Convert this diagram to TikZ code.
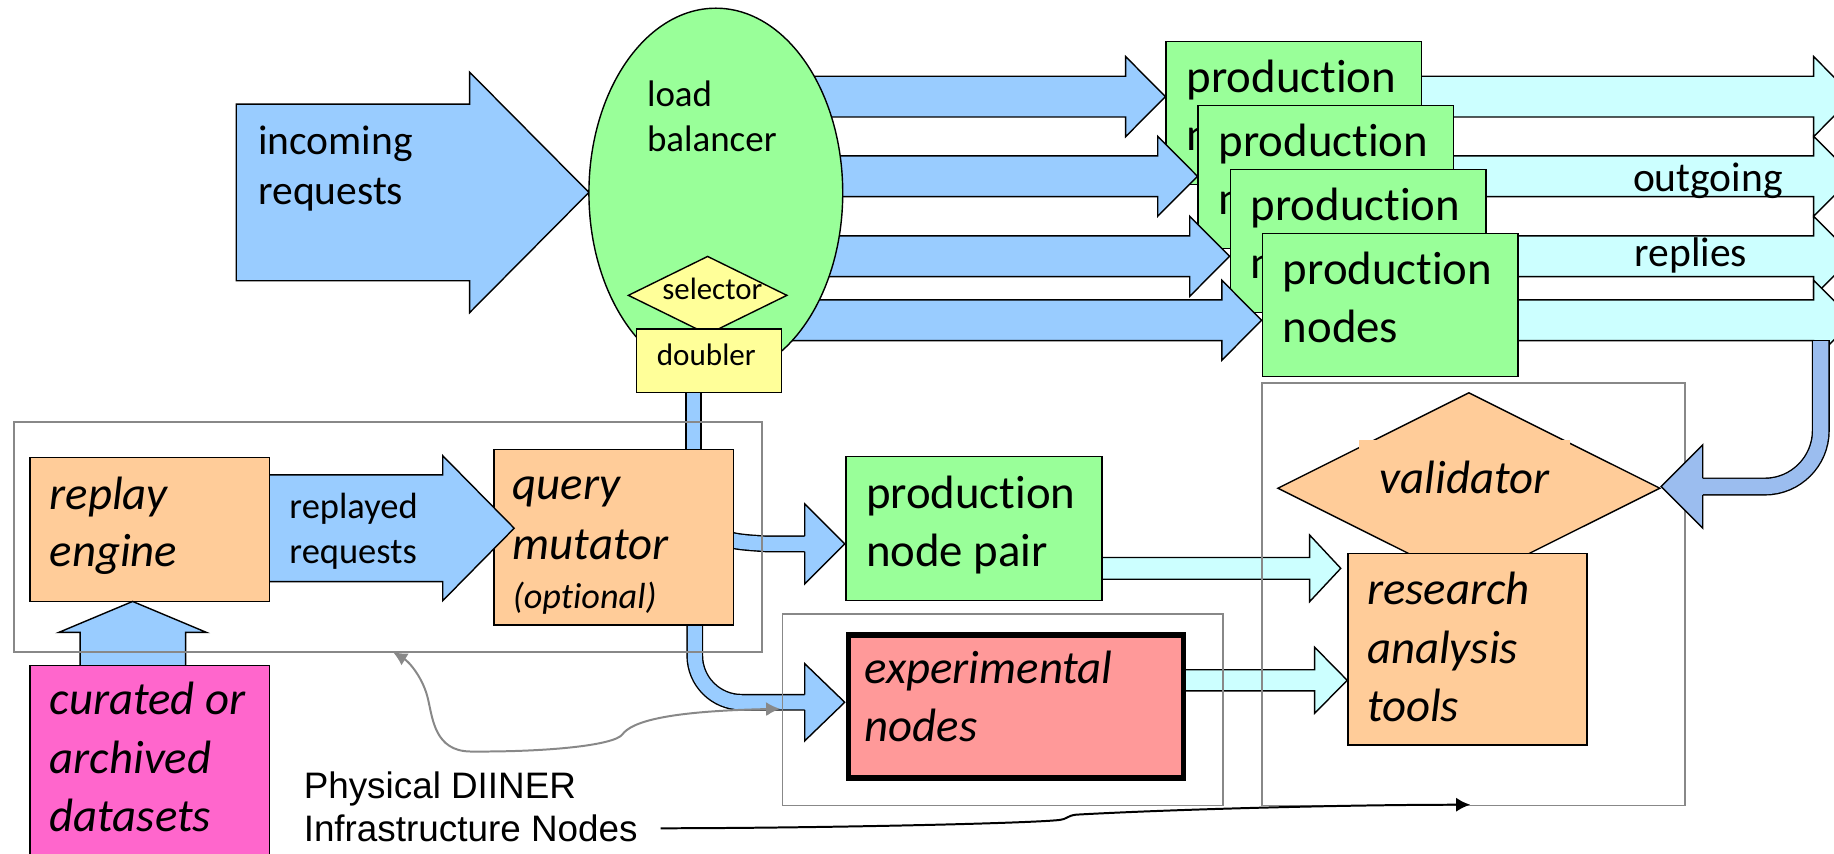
\documentclass[tikz,border=0pt]{standalone}
\usepackage{fontspec}
\setmainfont{Carlito}[Ligatures=NoCommon]
\newfontfamily\arialf{Liberation Sans}
\usetikzlibrary{shapes.geometric,arrows.meta}
\definecolor{cblue}{HTML}{99CCFF}
\definecolor{ccyan}{HTML}{CCFFFF}
\definecolor{cgreen}{HTML}{99FF99}
\definecolor{corange}{HTML}{FFCC99}
\definecolor{cyellow}{HTML}{FFFF99}
\definecolor{cpink}{HTML}{FF66CC}
\definecolor{cred}{HTML}{FF9999}
\definecolor{rblue}{HTML}{9BBDEF}
\definecolor{fgray}{HTML}{888888}
\newcommand\fsz[1]{\fontsize{#1}{#1}\selectfont}
% right/left block arrow: color, x0, xbase, xtip, yc, half body, half head
\newcommand\rarrow[7]{\draw[outl, fill=#1] (#2,{#5-#6}) -- (#3,{#5-#6}) -- (#3,{#5-#7}) -- (#4,#5) -- (#3,{#5+#7}) -- (#3,{#5+#6}) -- (#2,{#5+#6}) -- cycle;}
% arrow head on a pipe: color, xbase, xtip, yc, half body, half head
\newcommand\phead[6]{\fill[#1] (#2,{#4-#6}) -- (#3,#4) -- (#2,{#4+#6}) -- cycle;
  \draw[outl] (#2,{#4-#5}) -- (#2,{#4-#6}) -- (#3,#4) -- (#2,{#4+#6}) -- (#2,{#4+#5});}
\tikzset{
  outl/.style={draw=black, line width=1.2pt, line join=miter},
  bx/.style={outl, inner sep=0pt, anchor=north west},
  frm/.style={draw=fgray, line width=1.5pt, inner sep=0pt, anchor=north west},
  txt/.style={inner sep=0pt, anchor=base west},
  pipe/.style={draw=black, line width=1.2pt, double=cblue, double distance=12pt},
  garrow/.style={draw=fgray, line width=1.7pt, {Latex[length=12pt,width=12pt]}-{Latex[length=12pt,width=12pt]}},
  barrow/.style={draw=black, line width=1.7pt, -{Latex[length=12pt,width=12pt]}},
}
\begin{document}
\begin{tikzpicture}[x=1pt,y=-1pt]
\useasboundingbox (0,0) rectangle (1568,729.3);
\clip (0,0) rectangle (1568,729.3);

% ---------- top section ----------
\rarrow{cblue}{202}{401.5}{503.5}{164.5}{75.5}{102.8}

\rarrow{cblue}{640}{962.4}{996.4}{82.6}{17.4}{34.2}
\rarrow{ccyan}{1196.4}{1550.6}{1584.6}{82.6}{17.4}{34.2}
\node[bx, fill=cgreen, minimum width=218.5pt, minimum height=122.5pt] (p1) at (996.4,34.8) {};
\node[txt, font=\fsz{40}] (p1a) at (1014.4,79.5) {production};
\node[txt, font=\fsz{40}] (p1b) at (1014.4,128.8) {nodes};

\rarrow{cblue}{640}{989.8}{1023.8}{150.7}{17.4}{34.2}
\rarrow{ccyan}{1223.8}{1550.6}{1584.6}{150.7}{17.4}{34.2}
\node[bx, fill=cgreen, minimum width=218.5pt, minimum height=122.5pt] (p2) at (1023.8,89.5) {};
\node[txt, font=\fsz{40}] (p2a) at (1041.8,134.2) {production};
\node[txt, font=\fsz{40}] (p2b) at (1041.8,183.5) {nodes};

\rarrow{cblue}{640}{1017.2}{1051.2}{219.1}{17.4}{34.2}
\rarrow{ccyan}{1251.2}{1550.6}{1584.6}{219.1}{17.4}{34.2}
\node[bx, fill=cgreen, minimum width=218.5pt, minimum height=122.5pt] (p3) at (1051.2,144.2) {};
\node[txt, font=\fsz{40}] (p3a) at (1069.2,188.9) {production};
\node[txt, font=\fsz{40}] (p3b) at (1069.2,238.2) {nodes};

\rarrow{cblue}{640}{1044.6}{1078.6}{273.8}{17.4}{34.2}
\rarrow{ccyan}{1278.6}{1550.6}{1584.6}{273.8}{17.4}{34.2}
\node[bx, fill=cgreen, minimum width=218.5pt, minimum height=122.5pt] (p4) at (1078.6,198.9) {};
\node[txt, font=\fsz{40}] (p4a) at (1096.6,243.6) {production};
\node[txt, font=\fsz{40}] (p4b) at (1096.6,292.9) {nodes};

\node[txt, font=\fsz{35.5}] (tout) at (1396,163.8) {outgoing};
\node[txt, font=\fsz{35.5}] (trep) at (1397.4,228) {replies};

% pipes behind boxes
\draw[pipe, double distance=11.5pt] (593,330) -- (593,390);
\draw[pipe] (600,452) .. controls (625,463) .. (655,465) -- (690,465);
\draw[pipe, rounded corners=40pt] (594,525) -- (594,600.4) -- (690,600.4);

\node[ellipse, outl, fill=cgreen, minimum width=217pt, minimum height=316pt, inner sep=0pt] (lb) at (612,165) {};
\node[txt, font=\fsz{31.6}] (lb1) at (553,91) {load};
\node[txt, font=\fsz{31.6}] (lb2) at (553,129.6) {balancer};
\node[diamond, outl, fill=cyellow, minimum width=136pt, minimum height=67pt, inner sep=0pt] (sel) at (605,252.5) {};
\node[txt, font=\fsz{26.4}, anchor=base] (tsel) at (609,256.4) {selector};
\node[bx, fill=cyellow, minimum width=124pt, minimum height=54.2pt] (dbl) at (543.4,280.6) {};
\node[txt, font=\fsz{26.6}] (tdbl) at (561.4,312.8) {doubler};

\node[txt, font=\fsz{35.5}] (in1) at (220.7,132.5) {incoming};
\node[txt, font=\fsz{35.5}] (in2) at (220.7,175) {requests};

% ---------- lower section ----------
\node[bx, fill=corange, minimum width=204.9pt, minimum height=149.8pt] (mut) at (421.7,383.8) {};
\phead{cblue}{688}{722.2}{465}{6.6}{34.15}
\phead{cblue}{688}{722.2}{600.4}{6.6}{33}
\rarrow{cblue}{220}{378.5}{439.6}{451.6}{45.6}{62}
\node[bx, fill=corange, minimum width=204.9pt, minimum height=123.1pt] (rep) at (24.9,390.3) {};
\draw[outl, fill=cblue] (68.5,575) -- (68.5,540.7) -- (50.2,540.7) -- (113.4,514.2) -- (176.6,540.7) -- (158.7,540.7) -- (158.7,575) -- cycle;
\node[bx, fill=cpink, minimum width=204.9pt, minimum height=200pt] (cur) at (24.9,568.4) {};

\rarrow{ccyan}{930}{1119.7}{1146.3}{485.9}{9.3}{28.45}
\node[bx, fill=cgreen, minimum width=218.6pt, minimum height=123.1pt] (pair) at (722.8,389.7) {};
\rarrow{ccyan}{1000}{1124}{1151.8}{581.6}{9}{28.2}
\node[bx, fill=cred, line width=4.5pt, minimum width=286.2pt, minimum height=122.2pt] (exp) at (723.25,540.75) {};

\node[diamond, outl, fill=corange, minimum width=327pt, minimum height=163.6pt, inner sep=0pt] (val) at (1255.8,417.4) {};
\fill[corange] (1161.8,376) rectangle (1342.5,440);
\node[bx, fill=corange, minimum width=204.4pt, minimum height=163.8pt] (res) at (1151.8,472.4) {};

% texts
\node[txt, font=\itshape\fsz{40}] (rep1) at (42.3,436) {replay};
\node[txt, font=\itshape\fsz{40}] (rep2) at (42.3,484.3) {engine};
\node[txt, font=\fsz{31.2}] (rr1) at (247.3,443) {replayed};
\node[txt, font=\fsz{31.2}] (rr2) at (247.3,481.5) {requests};
\node[txt, font=\itshape\fsz{40}] (mu1) at (438.3,427.4) {query};
\node[txt, font=\itshape\fsz{40}] (mu2) at (438.3,478.6) {mutator};
\node[txt, font=\itshape\fsz{31}] (mu3) at (438.3,520) {(optional)};
\node[txt, font=\itshape\fsz{40}] (cu1) at (42.3,611) {curated or};
\node[txt, font=\itshape\fsz{40}] (cu2) at (42.3,661) {archived};
\node[txt, font=\itshape\fsz{40}] (cu3) at (42.3,710.8) {datasets};
\node[txt, font=\fsz{40}] (pa1) at (740.2,434.5) {production};
\node[txt, font=\fsz{40}] (pa2) at (740.2,484.3) {node pair};
\node[txt, font=\itshape\fsz{40}] (ex1) at (739.2,584) {experimental};
\node[txt, font=\itshape\fsz{40}] (ex2) at (739.2,634) {nodes};
\node[txt, font=\itshape\fsz{40}, anchor=base] (tval) at (1252.3,421.6) {validator};
\node[txt, font=\itshape\fsz{40}] (re1) at (1168.6,517) {research};
\node[txt, font=\itshape\fsz{40}] (re2) at (1168.6,567) {analysis};
\node[txt, font=\itshape\fsz{40}] (re3) at (1168.6,616.8) {tools};

% frames
\node[frm, minimum width=640.1pt, minimum height=196.6pt] (f1) at (10.9,359.8) {};
\node[frm, minimum width=376.7pt, minimum height=163.8pt] (f2) at (668.3,524.2) {};
\node[frm, minimum width=361.4pt, minimum height=361pt] (f3) at (1078.2,327) {};

% return arrow
\draw[pipe, double=rblue, double distance=13pt, rounded corners=48pt] (1556.7,291.2) -- (1556.7,416) -- (1453,416);
\draw[outl] (1549,291.2) -- (1564.5,291.2);
\phead{rblue}{1455.8}{1420.2}{416}{7.1}{35.65}

% label and pointers
\node[txt, font=\arialf\fsz{31.5}] (lab1) at (259.5,682.3) {Physical DIINER};
\node[txt, font=\arialf\fsz{31.5}] (lab2) at (259.5,719.4) {Infrastructure Nodes};
\coordinate (gL) at (336,557.5);
\coordinate (gR) at (667,606);
\coordinate (bE) at (1257,688);
\draw[garrow] (gL) .. controls (350,566) and (362,580) .. (366,598) .. controls (370,615) and (372,642) .. (402,642.5) .. controls (470,643) and (525,637) .. (532,628) .. controls (540,617) and (570,608) .. (gR);
\draw[barrow] ([xshift=19.5pt]lab2.east) .. controls (700,708) and (880,704) .. (906,701) .. controls (912,700.5) and (912,697.5) .. (920,696.5) .. controls (1000,692) and (1150,688) .. (bE);
\end{tikzpicture}
\end{document}
